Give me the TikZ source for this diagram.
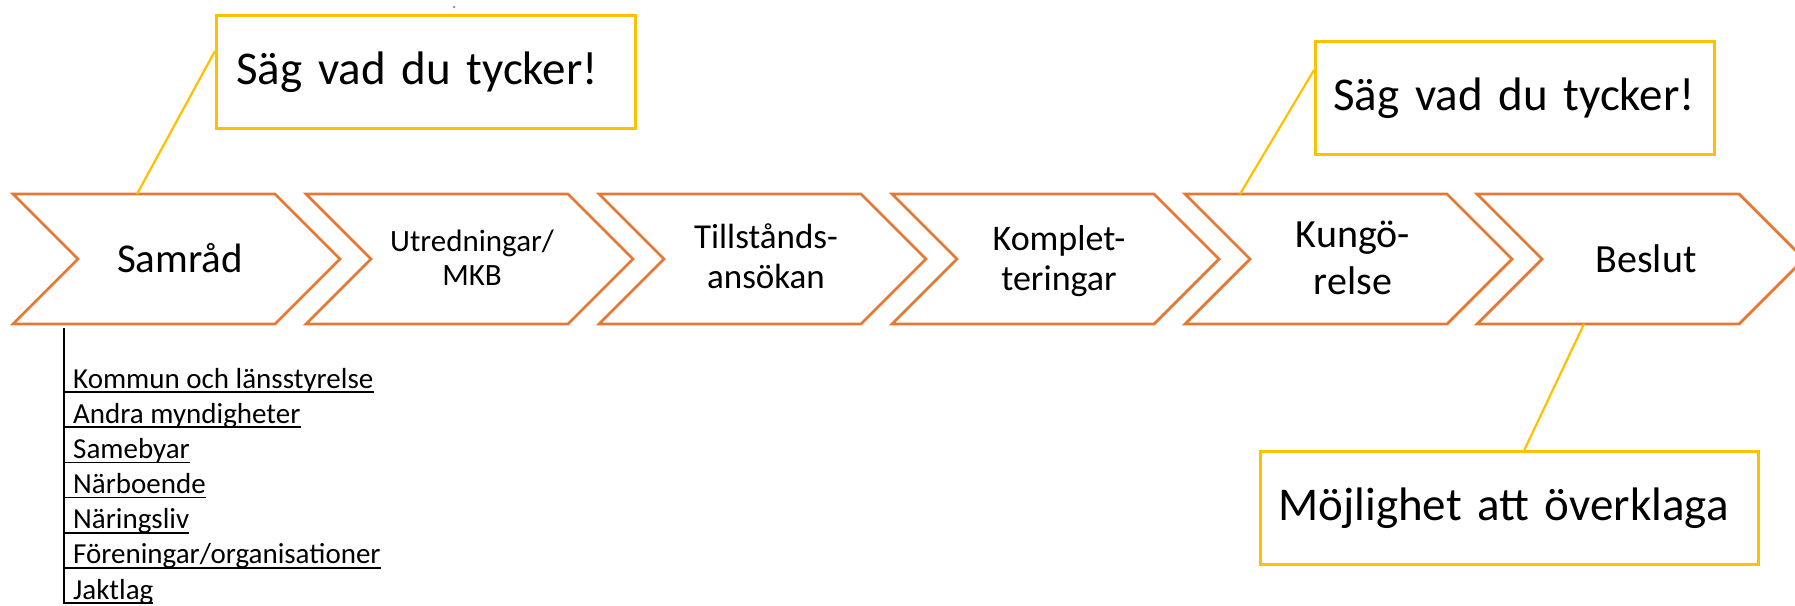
\documentclass[tikz,border=0pt]{standalone}
\usepackage{fontspec}
\setmainfont{Carlito}
\usetikzlibrary{calc}
\definecolor{chevorange}{RGB}{229,121,52}
\definecolor{calloutyellow}{RGB}{255,192,0}
\begin{document}
\begin{tikzpicture}[x=1pt,y=-1pt,
  chev/.style={draw=chevorange, line width=2.8pt, fill=white, line join=miter},
  ctxt/.style={anchor=base, inner sep=0pt},
  callbox/.style={draw=calloutyellow, line width=2.6pt, anchor=north west, minimum height=113pt, align=left, inner ysep=0pt, font=\fontsize{47}{56}\selectfont},
  callline/.style={draw=calloutyellow, line width=2.2pt},
  item/.style={anchor=base west, inner sep=0pt, font=\fontsize{29}{35}\selectfont},
  uline/.style={draw=black, line width=1.6pt},
  listline/.style={draw=black, line width=1.4pt},
]
\useasboundingbox (0,0) rectangle (1795,605);

% attachment points of callouts
\coordinate (k1) at (137,194);
\coordinate (k5) at (1240,194);
\coordinate (k6) at (1584,324);

% chevrons
\foreach \x in {13,306,599,892,1185,1477} {
  \draw[chev] (\x,194) -- ++(262,0) -- ++(65,65) -- ++(-65,65) -- ++(-262,0) -- ++(65,-65) -- cycle;
}

% chevron texts
\node[ctxt, font=\fontsize{41}{48}\selectfont] (t1) at (180,272) {Samråd};
\node[ctxt, font=\fontsize{31}{36}\selectfont] (t2a) at (472,251) {Utredningar/};
\node[ctxt, font=\fontsize{31}{36}\selectfont] (t2b) at (472,285) {MKB};
\node[ctxt, font=\fontsize{35}{40}\selectfont] (t3a) at (766,248) {Tillstånds-};
\node[ctxt, font=\fontsize{35}{40}\selectfont] (t3b) at (766,288) {ansökan};
\node[ctxt, font=\fontsize{36}{40}\selectfont] (t4a) at (1059,250) {Komplet-};
\node[ctxt, font=\fontsize{36}{40}\selectfont] (t4b) at (1059,290) {teringar};
\node[ctxt, font=\fontsize{40}{47}\selectfont] (t5a) at (1353,247) {Kungö-};
\node[ctxt, font=\fontsize{40}{47}\selectfont] (t5b) at (1353,294) {relse};
\node[ctxt, font=\fontsize{40}{47}\selectfont] (t6) at (1646,272) {Beslut};

% callout boxes
\node[callbox, text width=379pt, inner xsep=20pt] (b1) at (215,14) {Säg vad du tycker!};
\node[callbox, text width=363pt, inner xsep=18pt] (b2) at (1314,40) {Säg vad du tycker!};
\node[callbox, text width=462pt, inner xsep=18pt] (b3) at (1259,450) {Möjlighet att överklaga};

% callout lines
\draw[callline] (k1) -- ($(b1.north west)!0.32!(b1.south west)$);
\draw[callline] (k5) -- ($(b2.north west)!0.26!(b2.south west)$);
\draw[callline] (k6) -- ($(b3.north west)!0.53!(b3.north east)$);

% small dot
\fill[gray!80] (454,7) circle[radius=1.5];

% list of parties
\coordinate (vt) at (64,328);
\coordinate (vb) at (64,604);
\draw[listline] (vt) -- (vb);
\node[item] (l0) at (73,388) {Kommun och länsstyrelse};
\node[item] (l1) at (73,423.2) {Andra myndigheter};
\node[item] (l2) at (73,458.3) {Samebyar};
\node[item] (l3) at (73,493.5) {Närboende};
\node[item] (l4) at (73,528.7) {Näringsliv};
\node[item] (l5) at (73,563.9) {Föreningar/organisationer};
\node[item] (l6) at (73,599) {Jaktlag};
\foreach \n in {l0,l1,l2,l3,l4,l5,l6} {
  \draw[uline] ([xshift=-8pt,yshift=-4pt]\n.base west) -- ([yshift=-4pt]\n.base east);
}
\end{tikzpicture}
\end{document}
